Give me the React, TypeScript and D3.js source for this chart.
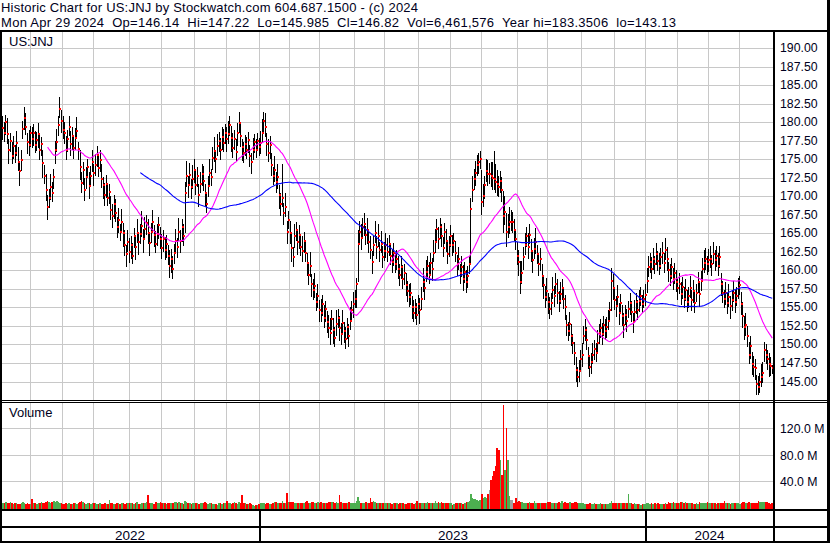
import React from 'react';
import * as d3 from 'd3';

// Daily closes, May 4 2022 .. Apr 29 2024 (trading days)
const closes = [
  // May 2022
  179.2, 178.6, 180.1, 178.4, 176.2, 177.5, 175.4, 176.8, 175.9, 177.2, 174.6, 173.4, 174.9, 179.1, 180.6, 179.4, 177.3, 176.9, 178.6,
  // Jun 2022
  177.8, 178.5, 176.9, 177.6, 178.4, 176.2, 177.0, 174.5, 172.8, 170.9, 168.6, 169.8, 171.2, 170.4, 172.6, 176.2, 177.4, 179.6, 181.8, 180.2, 179.0,
  // Jul 2022
  178.6, 176.2, 177.8, 179.4, 177.0, 178.2, 176.5, 177.9, 178.8, 176.4, 174.0, 171.8, 173.5, 170.8, 172.6, 173.9, 171.4, 172.8, 174.6, 173.2,
  // Aug 2022
  174.2, 175.6, 173.8, 174.9, 172.4, 171.5, 170.2, 171.6, 169.8, 170.6, 168.2, 167.4, 169.0, 167.8, 165.9, 166.8, 165.2, 166.6, 165.0, 163.4, 162.2, 163.8, 162.5,
  // Sep 2022
  163.4, 162.0, 164.6, 163.2, 165.1, 163.8, 164.9, 166.0, 164.3, 165.6, 166.4, 165.0, 163.7, 165.2, 166.5, 164.8, 163.5, 164.9, 166.1, 164.2, 163.0,
  // Oct 2022
  164.2, 162.8, 163.6, 161.9, 160.6, 161.5, 160.2, 162.4, 164.0, 163.1, 165.2, 164.0, 165.8, 164.6, 170.4, 172.8, 171.5, 172.9, 171.2, 172.4, 173.6,
  // Nov 2022
  171.5, 172.8, 170.2, 171.6, 173.0, 172.1, 170.4, 169.0, 171.4, 173.2, 172.6, 175.2, 176.1, 175.0, 176.8, 177.5, 176.2, 178.0, 177.2, 178.6, 177.8,
  // Dec 2022
  178.4, 179.6, 177.9, 176.5, 177.8, 176.0, 178.5, 179.9, 178.2, 176.6, 175.8, 177.0, 176.2, 177.6, 175.4, 174.6, 176.2, 177.4, 176.3, 177.5, 176.6,
  // Jan 2023
  177.2, 178.6, 180.2, 179.4, 177.1, 175.8, 176.9, 174.2, 172.8, 173.6, 171.9, 172.6, 170.2, 168.9, 169.8, 167.8, 168.6, 165.2, 166.8, 165.0,
  // Feb 2023
  163.0, 161.8, 164.6, 165.4, 163.8, 164.8, 163.2, 162.6, 164.0, 162.3, 161.0, 159.4, 160.6, 158.2, 157.4, 157.9, 155.8, 156.6, 154.6,
  // Mar 2023
  154.2, 155.4, 153.6, 154.8, 153.0, 152.2, 151.6, 153.4, 152.0, 150.9, 152.8, 153.6, 152.2, 151.4, 152.9, 151.8, 150.8, 152.4, 151.2, 153.2, 154.6, 155.4, 156.2,
  // Apr 2023
  158.2, 163.6, 165.2, 164.4, 165.8, 166.2, 164.8, 165.4, 163.9, 162.8, 161.1, 163.4, 165.0, 163.2, 164.6, 162.7, 163.5, 161.8, 162.6,
  // May 2023
  163.4, 162.5, 163.6, 162.0, 161.2, 162.4, 160.8, 161.6, 160.2, 159.4, 160.5, 158.8, 159.6, 158.0, 157.2, 156.4, 157.0, 155.0, 154.2, 155.1, 154.0, 155.4,
  // Jun 2023
  154.6, 156.2, 158.4, 157.6, 159.8, 160.6, 159.4, 161.0, 160.2, 162.4, 163.8, 165.6, 164.2, 165.8, 164.6, 163.0, 165.2, 164.0, 162.2, 163.4, 164.6,
  // Jul 2023
  163.4, 164.0, 162.4, 160.8, 161.5, 159.6, 160.4, 158.9, 159.8, 158.4, 159.2, 160.8, 168.3, 170.9, 172.4, 173.2, 174.2, 174.6, 175.0, 169.2,
  // Aug 2023
  170.1, 171.5, 173.4, 173.0, 173.0, 172.8, 172.5, 172.3, 172.0, 171.6, 171.2, 172.1, 170.8, 167.4, 167.9, 165.2, 165.9, 166.6, 166.6, 166.6, 165.4, 164.2, 162.0,
  // Sep 2023
  161.2, 158.4, 159.6, 161.8, 163.4, 164.6, 163.2, 164.8, 162.6, 161.4, 162.9, 163.8, 162.2, 160.8, 161.6, 159.2, 158.0, 156.4, 157.2, 155.8,
  // Oct 2023
  154.8, 155.6, 157.4, 156.6, 158.2, 157.0, 155.9, 156.8, 157.6, 156.2, 155.0, 152.6, 151.8, 152.8, 151.2, 150.2, 148.9, 146.6, 145.6, 146.4, 148.0, 148.6,
  // Nov 2023
  151.2, 152.0, 150.6, 148.4, 147.0, 147.6, 148.6, 149.4, 148.8, 150.2, 151.6, 152.2, 151.4, 152.6, 151.8, 152.4, 153.2, 154.6, 158.6, 157.6, 156.0,
  // Dec 2023
  155.2, 156.4, 154.2, 155.6, 153.8, 152.6, 154.0, 153.2, 154.8, 155.6, 154.4, 153.0, 154.4, 155.8, 154.6, 155.9, 156.6, 155.4, 156.2, 156.7,
  // Jan 2024
  158.6, 160.4, 161.1, 160.2, 161.6, 160.8, 162.2, 161.3, 160.6, 161.8, 162.4, 161.0, 162.8, 161.6, 160.0, 159.2, 160.4, 158.8, 159.6, 158.4, 157.6,
  // Feb 2024
  158.2, 156.8, 157.8, 156.2, 157.4, 155.8, 156.6, 157.6, 156.0, 157.2, 155.6, 157.0, 158.4, 156.8, 158.6, 160.2, 161.0, 161.6, 160.8, 161.4,
  // Mar 2024
  161.6, 160.8, 162.2, 161.4, 162.0, 160.6, 161.8, 158.2, 157.0, 156.2, 156.9, 155.6, 156.4, 155.2, 156.0, 157.0, 155.8, 156.6, 157.6, 158.0,
  // Apr 2024
  155.4, 153.8, 152.4, 152.6, 151.2, 148.6, 149.8, 147.4, 147.0, 146.8, 144.6, 144.2, 145.0, 145.6, 146.2, 149.2, 148.6, 148.0, 147.3, 147.1, 146.82,
];

// High minus close, per day
const highAbove = [
  1.7,1.4,0.9,2.2,1.5,1.1,1.9,1.3,1.0,1.6,2.1,1.2,1.4,1.1,1.5,1.8,1.2,2.0,0.9,1.6,
  1.3,1.9,1.1,1.5,2.2,1.0,1.7,1.4,2.1,1.6,1.2,1.8,1.5,1.1,1.3,1.7,1.2,1.55,1.5,1.9,
  1.4,2.0,1.1,1.5,1.8,1.2,1.6,1.3,1.9,1.0,2.2,1.5,1.1,1.7,1.4,1.2,1.9,1.3,1.6,1.1,
  1.5,1.2,1.8,1.4,2.0,1.1,1.6,1.3,1.7,1.0,1.9,1.5,1.2,1.8,1.3,1.6,1.1,1.7,1.4,2.0,
  1.2,1.6,1.9,1.3,1.7,1.1,1.5,1.8,1.2,1.4,2.0,1.3,1.6,1.1,1.9,1.5,1.2,1.7,1.3,1.8,
  1.4,1.1,1.6,1.9,1.3,1.7,1.2,1.5,2.1,1.4,1.8,1.2,1.6,1.3,1.9,1.5,1.1,1.7,1.5,2.0,
  1.3,1.6,1.2,1.8,1.4,1.9,1.1,1.5,1.7,1.3,2.0,1.2,1.6,1.4,1.8,1.1,1.5,1.9,1.3,1.6,
  1.2,1.7,1.4,1.9,1.1,1.5,1.8,1.3,1.6,2.1,1.2,1.7,1.4,1.5,1.9,1.2,1.6,1.3,1.8,1.1,
  1.5,1.3,1.7,1.0,1.4,1.1,1.3,1.6,1.9,1.2,1.8,1.5,2.0,1.3,1.6,1.2,1.9,1.4,1.7,1.3,
  1.6,4.5,1.3,1.8,1.5,1.2,1.7,1.9,1.4,1.6,1.1,1.8,1.3,1.5,2.0,1.2,1.7,1.4,1.6,1.9,
  1.3,1.5,1.8,1.2,1.6,1.4,1.9,1.3,1.7,1.1,1.5,1.8,2.0,1.3,1.6,1.4,1.9,1.2,1.7,1.5,
  1.8,1.3,1.6,1.2,1.5,1.9,1.3,1.7,1.1,0.8,1.9,1.5,1.8,1.3,1.6,1.2,1.7,1.4,1.9,1.5,
  1.3,1.7,1.4,1.6,1.2,1.8,1.5,1.3,1.6,1.9,1.2,1.5,1.7,1.3,1.6,1.1,1.8,1.4,1.5,1.9,
  1.2,1.6,1.4,1.7,1.3,1.5,1.8,1.1,1.6,1.3,1.7,1.5,1.9,1.2,1.6,1.4,1.8,1.3,1.5,1.7,
  1.8,1.4,1.6,1.3,1.7,1.5,1.2,1.6,1.9,1.3,1.5,1.4,1.1,1.6,1.3,1.7,1.2,1.5,1.8,1.3,
  1.6,1.4,1.2,1.5,1.8,1.3,1.6,1.4,1.2,1.1,4.3,1.5,1.3,1.6,1.9,1.5,1.8,2.1,3.8,2.3,
  1.9,1.6,1.3,1.8,3.3,2.1,2.5,1.7,1.9,1.5,1.3,1.6,1.4,1.8,1.5,2.9,1.7,1.3,1.6,1.2,
  1.8,1.4,1.7,1.3,1.5,1.9,1.2,1.6,1.4,1.7,1.3,1.5,1.8,1.2,1.6,1.4,1.7,1.3,1.5,1.8,
  1.3,1.6,1.2,1.5,1.7,1.4,1.3,1.6,1.5,1.2,1.4,1.7,1.3,1.5,1.2,1.6,1.3,1.5,1.8,1.2,
  1.5,1.3,1.6,1.2,1.4,1.7,1.1,1.3,1.5,1.2,1.6,1.3,1.4,1.2,1.7,1.9,1.5,1.3,1.6,1.4,
  1.2,1.5,1.7,1.3,1.6,1.1,1.4,1.5,1.3,1.6,1.2,1.4,1.5,1.1,1.3,1.2,1.4,1.7,1.5,1.3,
  1.6,1.4,1.2,1.5,1.3,1.7,1.2,1.4,1.3,1.6,1.5,1.2,1.7,1.3,1.5,1.4,1.6,1.2,1.5,1.7,
  1.3,1.6,1.4,1.5,1.2,1.7,1.3,1.5,1.8,1.2,1.4,1.6,1.3,1.5,1.7,1.4,1.2,1.5,1.7,1.3,
  1.6,1.4,1.3,1.7,1.5,1.4,1.6,1.2,1.5,1.3,1.7,1.4,1.3,1.6,1.5,1.2,1.4,1.3,1.7,1.9,
  1.5,1.7,1.3,1.8,1.4,1.6,1.5,1.2,1.3,1.6,1.2,1.8,1.4,1.1,1.5,1.3,1.6,1.2,0.4,
];

// Close minus low, per day
const lowBelow = [
  1.6,1.2,1.8,1.3,1.9,1.5,1.1,1.7,1.4,1.8,1.2,2.0,1.5,1.3,1.7,1.1,1.6,1.4,1.9,1.3,
  1.7,1.1,1.5,1.9,1.3,1.6,2.0,1.2,1.5,1.8,1.4,1.7,1.1,1.6,1.9,1.4,1.5,1.2,1.7,1.3,
  1.5,1.3,1.8,1.2,1.6,1.9,1.4,1.7,1.1,1.5,1.8,1.3,2.0,1.4,1.6,1.2,1.7,1.5,1.3,1.8,
  1.4,1.7,1.2,1.6,1.3,1.9,1.5,1.8,1.1,1.6,1.4,1.7,2.0,1.3,1.5,1.8,1.2,1.6,1.9,1.4,
  1.7,1.3,1.5,1.9,1.2,1.6,1.8,1.4,1.7,1.3,1.5,1.9,1.2,1.6,1.4,1.8,1.5,1.3,1.7,1.2,
  1.6,1.8,1.3,1.5,1.7,1.4,1.9,1.2,1.6,1.8,1.3,1.5,1.7,1.4,1.2,1.6,1.9,1.3,5.3,1.5,
  1.7,1.2,1.6,1.4,1.8,1.3,1.5,1.7,1.2,1.6,1.4,1.9,1.3,1.5,1.7,1.2,1.6,1.4,1.8,1.3,
  1.5,1.3,1.7,1.2,1.6,1.8,1.4,1.5,1.9,1.3,1.6,1.2,1.7,1.4,1.5,1.8,1.3,1.6,1.2,1.7,
  1.4,1.6,1.3,1.5,1.1,1.4,1.2,1.5,1.3,1.7,1.4,1.6,1.2,1.8,1.5,1.3,1.7,1.4,1.6,1.9,
  1.5,1.3,1.7,1.4,1.6,1.2,1.5,1.8,1.3,1.6,1.4,1.7,1.9,1.3,1.5,1.6,1.2,1.7,1.4,1.5,
  1.8,1.4,1.6,1.3,1.7,1.5,1.2,1.6,1.4,1.8,1.5,1.3,1.7,1.5,1.9,1.3,1.6,1.4,1.7,1.5,
  1.3,1.6,1.4,1.7,1.5,1.2,1.6,1.8,1.3,3.3,5.1,1.5,1.7,1.3,1.6,1.4,1.8,1.5,1.2,1.6,
  1.5,1.3,1.7,1.4,1.6,1.2,1.5,1.3,1.7,1.4,1.6,1.3,1.5,1.8,1.2,1.6,1.4,1.5,1.7,1.3,
  1.6,1.4,1.5,1.3,1.7,1.5,1.2,1.6,1.4,1.3,1.8,1.5,1.3,1.6,1.4,1.7,1.2,1.5,1.6,1.3,
  1.5,1.7,1.3,1.6,1.4,1.2,1.7,1.5,1.3,1.6,1.4,1.5,1.7,1.3,1.6,1.4,1.5,1.3,1.7,1.5,
  1.4,1.6,1.3,7.3,1.7,1.5,1.8,1.4,1.6,1.3,1.7,1.5,1.8,1.4,1.6,1.3,1.5,1.7,1.4,1.6,
  1.5,1.3,1.7,1.6,2.3,1.8,2.1,1.5,1.7,1.3,1.6,1.4,1.5,1.3,1.9,1.6,1.4,1.7,1.3,1.5,
  1.6,1.3,1.5,1.7,1.4,1.6,1.3,1.5,1.7,1.4,1.8,1.5,1.3,1.7,1.4,1.6,1.3,1.5,1.4,1.6,
  1.5,1.3,1.6,1.4,1.7,1.5,1.3,1.6,1.4,1.5,1.7,1.6,1.3,1.5,1.4,1.6,1.2,1.5,1.3,1.7,
  1.4,1.6,1.3,1.5,1.2,1.4,1.6,1.3,1.5,1.4,1.2,1.5,1.3,1.4,4.1,1.6,1.4,1.5,1.3,1.6,
  1.5,1.3,1.7,1.4,1.5,1.2,1.6,1.3,1.5,1.4,1.7,1.3,1.5,1.4,1.2,1.3,1.5,1.6,1.3,1.5,
  1.4,1.6,1.3,1.5,1.4,1.2,1.6,1.5,1.3,1.4,1.7,1.5,1.3,1.6,1.4,1.5,1.3,1.6,1.4,1.5,
  1.6,1.3,1.5,1.4,1.7,1.3,1.5,1.6,1.4,1.3,1.5,1.7,1.4,1.6,1.3,1.5,1.4,1.6,1.3,1.5,
  1.4,1.5,1.6,1.3,1.5,1.7,1.4,1.3,1.6,1.5,1.4,1.7,1.5,1.3,1.6,1.4,1.5,1.3,1.4,1.6,
  1.8,1.5,1.6,1.3,1.7,1.5,1.4,1.6,1.4,1.07,1.5,1.4,1.4,1.6,1.3,1.5,1.7,1.4,0.835,
];

// Daily volume, millions of shares
const volumesM = [
  7.2, 6.1, 8.0, 7.5, 6.4, 7.8, 6.2, 5.9, 6.8, 7.4, 6.0, 5.6, 6.9, 7.7, 6.3, 5.8, 6.5, 4.9, 5.5,
  13.0, 7.5, 6.2, 5.8, 7.0, 6.6, 8.2, 7.1, 6.4, 9.0, 10.2, 7.8, 6.9, 8.5, 9.2, 8.8, 9.4, 8.6, 7.3, 6.8, 5.9,
  5.6, 6.3, 5.1, 6.8, 5.4, 6.0, 7.2, 6.5, 5.8, 7.4, 8.6, 10.4, 7.6, 6.2, 5.9, 6.7, 6.1, 5.3, 6.4, 7.0,
  6.2, 5.5, 5.0, 6.1, 5.7, 4.8, 6.3, 5.2, 6.0, 11.8, 7.1, 6.4, 5.6, 5.9, 6.8, 6.2, 5.4, 7.3, 6.5, 5.8, 6.9, 7.5, 6.1,
  6.6, 7.2, 5.9, 6.3, 7.8, 6.0, 5.7, 6.5, 7.0, 6.8, 8.1, 18.6, 6.9, 7.4, 6.2, 5.8, 7.7, 6.4, 7.1, 8.3, 6.7,
  7.0, 6.2, 5.9, 7.3, 6.8, 7.5, 6.1, 8.2, 7.6, 6.9, 8.8, 7.2, 6.5, 6.0, 9.1, 8.0, 7.1, 6.3, 5.8, 6.6, 7.4,
  6.8, 6.1, 5.7, 7.0, 6.4, 6.9, 8.7, 6.2, 5.9, 6.6, 7.3, 5.4, 6.0, 5.1, 4.3, 6.2, 6.7, 5.8, 6.4, 7.1, 10.6,
  7.2, 6.5, 5.9, 6.8, 7.6, 6.3, 5.7, 8.1, 6.9, 18.2, 7.4, 6.2, 5.5, 5.9, 6.4, 5.1, 3.4, 2.8, 4.0, 3.1, 4.6,
  7.4, 6.8, 6.2, 5.9, 6.5, 7.1, 6.0, 5.7, 6.3, 8.8, 7.6, 6.9, 6.4, 7.2, 9.4, 6.8, 7.5, 21.4, 8.6, 7.9,
  8.2, 7.6, 6.5, 7.1, 6.8, 7.4, 6.2, 6.9, 7.5, 8.0, 10.3, 6.7, 7.2, 8.4, 7.9, 6.6, 7.3, 8.1, 7.0,
  7.8, 6.9, 7.4, 6.5, 7.1, 8.3, 9.0, 7.6, 8.9, 7.2, 8.0, 7.5, 19.2, 8.4, 7.0, 6.6, 7.3, 6.9, 7.7, 6.4, 7.1, 6.8, 7.5,
  9.6, 16.2, 9.8, 7.4, 6.9, 7.2, 8.0, 7.5, 6.6, 14.1, 8.7, 9.4, 8.2, 7.1, 6.5, 7.0, 6.3, 7.4, 6.8,
  6.4, 6.9, 7.3, 6.1, 5.8, 6.6, 7.0, 6.2, 5.9, 6.8, 7.4, 6.5, 6.0, 5.7, 6.3, 6.9, 7.2, 6.4, 5.6, 6.7, 9.1, 7.5,
  7.0, 6.4, 6.8, 7.3, 6.1, 7.9, 6.6, 7.2, 6.5, 7.4, 10.6, 6.9, 7.8, 6.2, 8.1, 6.7, 7.0, 6.3, 6.8, 7.5, 6.1,
  3.9, 5.8, 6.2, 6.7, 7.1, 6.5, 7.3, 6.0, 6.9, 7.6, 8.2, 9.4, 20.4, 13.8, 12.6, 12.9, 11.4, 10.2, 11.8, 21.0,
  14.8, 15.2, 14.4, 21.2, 26.0, 41.0, 47.0, 55.0, 63.0, 90.0, 87.0, 72.0, 50.0, 155.0, 57.0, 120.0, 72.0, 17.0, 11.0, 11.0, 7.5, 15.0, 8.2,
  9.4, 8.1, 7.6, 7.0, 6.8, 7.3, 6.5, 7.8, 6.9, 7.2, 10.4, 6.6, 7.1, 6.8, 7.5, 6.3, 7.0, 6.7, 7.4, 8.0,
  7.6, 6.9, 7.3, 6.4, 7.0, 6.6, 7.8, 6.2, 10.4, 7.1, 8.0, 6.5, 7.4, 8.9, 7.2, 6.8, 9.0, 8.3, 7.5, 6.6, 6.1, 6.9,
  6.2, 5.8, 5.4, 6.0, 6.5, 5.7, 5.2, 6.1, 5.5, 5.9, 5.3, 6.3, 5.6, 4.8, 6.0, 5.4, 5.8, 6.5, 10.2, 7.0, 6.4,
  7.4, 6.8, 6.2, 6.9, 7.3, 6.5, 7.0, 6.1, 20.1, 6.6, 6.4, 5.9, 6.3, 5.6, 5.8, 5.1, 4.4, 4.8, 5.2, 5.6,
  7.2, 6.5, 5.9, 6.4, 5.8, 6.1, 5.5, 6.8, 5.3, 5.7, 6.0, 5.6, 6.2, 5.9, 7.8, 6.5, 7.4, 8.2, 7.0, 6.3, 6.6,
  7.5, 8.0, 7.8, 7.2, 8.1, 6.6, 6.9, 6.2, 6.5, 6.0, 5.8, 6.3, 5.9, 7.6, 6.7, 6.1, 7.4, 6.8, 8.0, 7.1,
  6.4, 6.9, 6.2, 6.7, 6.0, 6.5, 6.8, 7.2, 6.3, 10.4, 6.6, 7.0, 6.1, 5.8, 6.4, 6.2, 6.9, 7.3, 6.6, 6.0,
  7.4, 8.1, 7.6, 6.9, 6.4, 8.3, 7.2, 6.8, 7.0, 6.6, 7.5, 10.6, 8.0, 8.8, 8.4, 8.2, 7.8, 8.1, 6.5, 6.0, 6.46,
];

const priceTicks = [190, 187.5, 185, 182.5, 180, 177.5, 175, 172.5, 170, 167.5, 165, 162.5, 160, 157.5, 155, 152.5, 150, 147.5, 145];
const volumeTicks = [40, 80, 120];
const maWindows = [30, 90];
const maColors = ['#ff00ff', '#0000ff'];
const marketHolidays = [
  '2022-05-30', '2022-06-20', '2022-07-04', '2022-09-05', '2022-11-24', '2022-12-26',
  '2023-01-02', '2023-01-16', '2023-02-20', '2023-04-07', '2023-05-29', '2023-06-19', '2023-07-04',
  '2023-09-04', '2023-11-23', '2023-12-25', '2024-01-01', '2024-01-15', '2024-02-19', '2024-03-29',
];
const headerLine1 = 'Historic Chart for US:JNJ by Stockwatch.com 604.687.1500 - (c) 2024';
const headerLine2 = 'Mon Apr 29 2024  Op=146.14  Hi=147.22  Lo=145.985  Cl=146.82  Vol=6,461,576  Year hi=183.3506  lo=143.13';

function tradingDays(count: number): Date[] {
  const hol = new Set(marketHolidays);
  const out: Date[] = [];
  let t = Date.UTC(2022, 4, 4);
  while (out.length < count) {
    const d = new Date(t);
    const wd = d.getUTCDay();
    const key = d.toISOString().slice(0, 10);
    if (wd !== 0 && wd !== 6 && !hol.has(key)) out.push(d);
    t += 86400000;
  }
  return out;
}

const FONT = '"Liberation Sans", Arial, sans-serif';
const TXT = '#000020';

export default function App() {
  const n = closes.length;
  const dates = tradingDays(n);
  const PL = 2, PR = 773;
  const x = d3.scaleLinear().domain([0, n]).range([PL, PR]);
  const xc = (i: number) => x(i + 0.5);
  const yP = d3.scaleLinear().domain([145, 190]).range([381.5, 48.2]);
  const yV = d3.scaleLinear().domain([0, 120]).range([507.5, 428.3]);

  const highs = closes.map((c, i) => c + highAbove[i]);
  const lows = closes.map((c, i) => c - lowBelow[i]);

  const monthStarts: number[] = [];
  const yearStarts: number[] = [];
  dates.forEach((d, i) => {
    if (i === 0) return;
    if (d.getUTCMonth() !== dates[i - 1].getUTCMonth()) monthStarts.push(i);
    if (d.getUTCFullYear() !== dates[i - 1].getUTCFullYear()) yearStarts.push(i);
  });
  const gx = (i: number) => Math.floor(x(i)) - 0.5;

  const yearBounds = [0, ...yearStarts.map(i => gx(i) + 0.5), PR];
  const yearLabels = [dates[0].getUTCFullYear(), ...yearStarts.map(i => dates[i].getUTCFullYear())];

  const mas = maWindows.map(w =>
    closes.map((_, i) => (i >= w - 1 ? d3.mean(closes.slice(i - w + 1, i + 1)) as number : null))
  );
  const line = d3.line<number | null>()
    .defined(v => v !== null)
    .x((_, i) => xc(i))
    .y(v => yP(v as number));

  const volColor = (i: number) => {
    if (i === 0) return '#4caf50';
    if (closes[i] > closes[i - 1]) return '#4caf50';
    if (closes[i] < closes[i - 1]) return '#ff0000';
    return '#a0a0a0';
  };

  const grid = '#c8c8c8';

  return (
    <svg width={830} height={543} style={{ position: 'absolute', left: 0, top: 0, display: 'block' }}
      fontFamily={FONT}>
      <rect x={0} y={0} width={830} height={543} fill="#ffffff" />

      {/* price horizontal gridlines */}
      {priceTicks.map(v => (
        <line key={'pg' + v} x1={PL} x2={PR} y1={Math.round(yP(v)) + 0.5} y2={Math.round(yP(v)) + 0.5}
          stroke={grid} strokeWidth={1} shapeRendering="crispEdges" />
      ))}
      {/* volume horizontal gridlines */}
      {volumeTicks.map(v => (
        <line key={'vg' + v} x1={PL} x2={PR} y1={Math.round(yV(v)) + 0.5} y2={Math.round(yV(v)) + 0.5}
          stroke={grid} strokeWidth={1} shapeRendering="crispEdges" />
      ))}
      {/* vertical month gridlines */}
      {monthStarts.map(i => (
        <g key={'mg' + i}>
          <line x1={gx(i)} x2={gx(i)} y1={32} y2={400} stroke={grid} strokeWidth={1} shapeRendering="crispEdges" />
          <line x1={gx(i)} x2={gx(i)} y1={403} y2={509} stroke={grid} strokeWidth={1} shapeRendering="crispEdges" />
        </g>
      ))}

      {/* volume bars */}
      {volumesM.map((v, i) => {
        const xl = Math.round(x(i));
        const xr = Math.round(x(i + 1));
        const yt = Math.round(yV(v));
        return <rect key={'v' + i} x={xl} y={yt} width={Math.max(1, xr - xl)} height={509 - yt}
          fill={volColor(i)} shapeRendering="crispEdges" />;
      })}

      {/* price HLC bars */}
      {closes.map((c, i) => {
        const bx = Math.floor(xc(i));
        const yh = Math.round(yP(highs[i]));
        const yl = Math.round(yP(lows[i]));
        return <rect key={'b' + i} x={bx} y={yh} width={1} height={Math.max(1, yl - yh)} fill="#000000"
          shapeRendering="crispEdges" />;
      })}
      {closes.map((c, i) => {
        const bx = Math.floor(xc(i));
        const yc = Math.round(yP(c));
        return <rect key={'c' + i} x={bx} y={yc - 1} width={2} height={2} fill="#ff0000" shapeRendering="crispEdges" />;
      })}

      {/* moving averages */}
      {mas.map((m, k) => (
        <path key={'ma' + k} d={line(m) || ''} fill="none" stroke={maColors[k]} strokeWidth={1.1} />
      ))}

      {/* frame */}
      <rect x={0} y={30} width={830} height={2} fill="#000" />
      <rect x={0} y={30} width={2} height={513} fill="#000" />
      <rect x={827} y={0} width={3} height={543} fill="#000" />
      <rect x={0} y={541} width={830} height={2} fill="#000" />
      <rect x={773} y={30} width={2} height={513} fill="#000" />
      <rect x={0} y={400} width={830} height={1} fill="#000" />
      <rect x={0} y={402} width={830} height={1} fill="#000" />
      <rect x={0} y={509} width={830} height={2} fill="#000" />
      <rect x={0} y={526} width={830} height={2} fill="#000" />
      {yearStarts.map(i => (
        <rect key={'yl' + i} x={gx(i) - 0.5} y={511} width={2} height={30} fill="#000" />
      ))}

      {/* header */}
      <text x={1} y={12} fontSize={13} fill={TXT} textLength={417}>{headerLine1}</text>
      <text x={1} y={27} fontSize={13} fill={TXT} textLength={675} style={{ whiteSpace: 'pre' }}>{headerLine2}</text>

      {/* panel labels */}
      <text x={9} y={46} fontSize={13} fill={TXT}>US:JNJ</text>
      <text x={9} y={417} fontSize={13} fill={TXT}>Volume</text>

      {/* price axis labels */}
      {priceTicks.map(v => (
        <text key={'pl' + v} x={780} y={Math.round(yP(v)) + 3.5} fontSize={12.3} fill={TXT}>{v.toFixed(2)}</text>
      ))}
      {volumeTicks.map(v => (
        <text key={'vl' + v} x={780} y={Math.round(yV(v)) + 4.5} fontSize={12.3} fill={TXT}>{v.toFixed(1) + ' M'}</text>
      ))}

      {/* year labels */}
      {yearLabels.map((yr, k) => (
        <text key={'yr' + yr} x={(yearBounds[k] + yearBounds[k + 1]) / 2} y={540} fontSize={13.5} fill={TXT}
          textAnchor="middle">{yr}</text>
      ))}
    </svg>
  );
}
